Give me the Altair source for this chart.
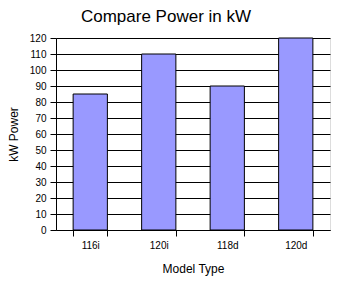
import altair as alt
import pandas as pd

models = ["116i", "120i", "118d", "120d"]
power = [85, 110, 90, 120]
y_ticks = list(range(0, 121, 10))

df = pd.DataFrame({"Model": models, "Power": power})

FONT = "Liberation Sans"

chart = alt.Chart(df).mark_bar(
    fill="#9999FF", stroke="black", strokeWidth=1
).encode(
    x=alt.X(
        "Model:N",
        sort=models,
        scale=alt.Scale(paddingInner=0.5, paddingOuter=0.25),
        axis=alt.Axis(
            title="Model Type",
            labelAngle=0,
            tickBand="extent",
            tickSize=6,
            labelPadding=4,
            labelFontSize=10,
            titleFontSize=12,
            titleFontWeight="normal",
            titlePadding=13,
            domainColor="black",
            tickColor="black",
            labelColor="black",
            titleColor="black",
            grid=False,
        ),
    ),
    y=alt.Y(
        "Power:Q",
        scale=alt.Scale(domain=[0, 120], nice=False),
        axis=alt.Axis(
            title="kW Power",
            values=y_ticks,
            tickSize=6,
            labelPadding=4,
            labelFontSize=10,
            titleFontSize=12,
            titleFontWeight="normal",
            titleX=-43,
            titleY=96,
            titleAlign="center",
            titleBaseline="middle",
            titleAngle=270,
            grid=True,
            gridColor="black",
            gridOpacity=1,
            gridWidth=1,
            domainColor="black",
            tickColor="black",
            labelColor="black",
            titleColor="black",
        ),
    ),
).properties(
    width=274,
    height=192,
    autosize=alt.AutoSizeParams(type="none"),
    padding={"left": 56, "top": 38, "right": 29, "bottom": 61},
    title=alt.TitleParams(
        "Compare Power in kW",
        fontSize=17,
        fontWeight="normal",
        font=FONT,
        color="black",
        anchor="middle",
        dx=-27,
        offset=7,
    ),
).configure_view(
    stroke=None
).configure_axis(
    labelFont=FONT,
    titleFont=FONT,
    domainWidth=1,
    tickWidth=1,
).configure(
    background="white"
)

chart.save("out.html", embed_options={"renderer": "svg", "actions": False})
